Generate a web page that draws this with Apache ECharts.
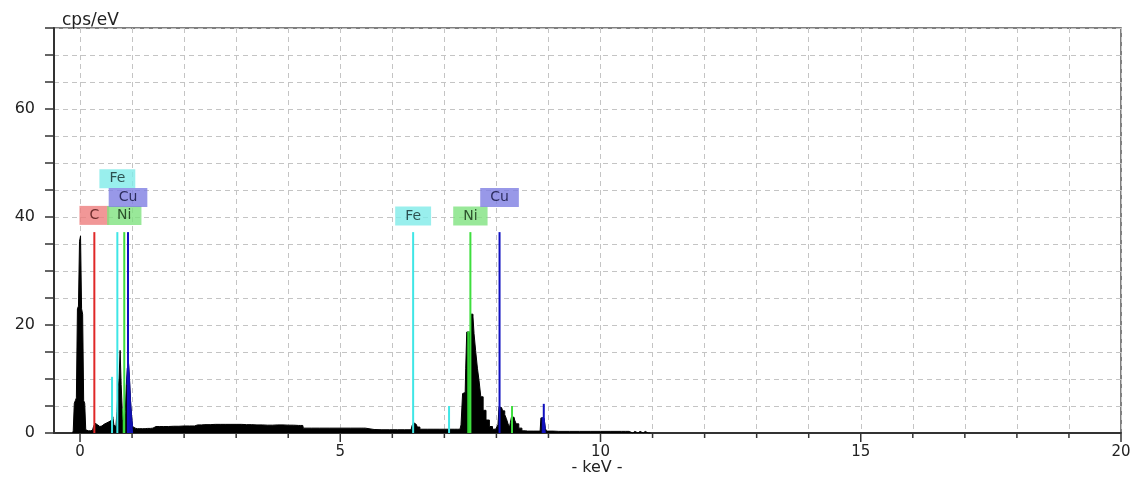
<!DOCTYPE html>
<html><head><meta charset="utf-8">
<script src="https://cdn.jsdelivr.net/npm/echarts@6/dist/echarts.min.js"></script>
<style>html,body{margin:0;padding:0;background:#fff}#c{width:1138px;height:482px}</style>
</head><body><div id="c"></div>
<script>
// ---- data ----
const energy = [-0.14,-0.12,-0.10,-0.08,-0.06,-0.04,-0.02,0.00,0.02,0.04,0.06,0.08,0.10,0.12,0.16,0.20,0.24,0.28,0.30,0.34,0.38,0.42,0.46,0.50,0.54,0.58,0.62,0.64,0.66,0.68,0.70,0.72,0.74,0.76,0.78,0.80,0.82,0.84,0.86,0.88,0.90,0.92,0.94,0.96,0.98,1.00,1.02,1.06,1.10,1.20,1.30,1.40,1.46,1.60,1.80,2.00,2.20,2.26,2.40,2.60,2.80,3.00,3.20,3.40,3.60,3.80,4.00,4.20,4.28,4.30,4.60,5.00,5.40,5.48,5.50,5.80,6.10,6.36,6.40,6.42,6.46,6.50,6.56,6.80,7.00,7.20,7.30,7.34,7.36,7.40,7.42,7.44,7.46,7.48,7.50,7.52,7.54,7.56,7.58,7.62,7.65,7.68,7.72,7.77,7.83,7.90,7.95,8.02,8.04,8.06,8.10,8.14,8.18,8.20,8.24,8.26,8.28,8.30,8.34,8.36,8.40,8.46,8.52,8.60,8.84,8.87,8.89,8.91,8.93,8.95,8.98,9.20,9.60,10.00,10.40,10.55,10.58,10.66,10.68,10.76,10.78,10.86,10.88,10.95,10.97];
const counts = [0,0.5,5.5,6,6.5,23,23.5,35.5,36.5,23,22,6,5.5,0.6,0.4,0.4,0.5,1.2,1.8,1.5,1.2,1.3,1.6,1.8,2.0,2.2,2.5,3.0,1.5,1.2,1.5,4,8,10,15.3,9,4.5,2.5,2,4,9,12,13.2,10,6,3,1.2,0.9,0.8,0.8,0.85,0.9,1.2,1.2,1.25,1.3,1.3,1.5,1.55,1.6,1.6,1.6,1.55,1.5,1.45,1.5,1.45,1.4,1.4,0.9,0.9,0.9,0.9,0.9,0.65,0.6,0.6,0.6,1.4,1.9,1.6,1.1,0.7,0.7,0.7,0.7,0.7,1.5,7.3,7.5,12,18.7,18.7,18.7,18.7,22,22,21.5,18.4,15.3,12,9.8,6.7,4.2,2.4,1.2,0.7,0.7,1.5,4.85,4.7,4.1,3.4,2.7,1.8,1.0,2.0,3.0,2.9,2.4,1.7,0.9,0.4,0.35,0.35,2.8,2.8,2.8,2.4,0.8,0.35,0.3,0.3,0.3,0.3,0.3,0,0.3,0,0.3,0,0.3,0,0.3,0];

const markerEl = ['C','Fe','Ni','Cu','Fe','Ni','Cu'];
const markerKeV = [0.275,0.717,0.85,0.922,6.40,7.50,8.06];
const markerHeight = [37.2,37.2,37.2,37.2,37.2,37.2,37.2];
const labelRow = [40.3,47.1,40.3,43.6,40.2,40.2,43.6];

const minorEl = ['Fe','Fe','Ni','Cu'];
const minorKeV = [0.615,7.09,8.30,8.91];
const minorHeight = [10.4,5.0,5.0,5.4];

const bandEl = ['Ni','Cu','Ni','Cu'];
const bandLo = [0.81,0.90,7.43,8.86];
const bandHi = [0.86,1.02,7.50,8.95];

const xTickMajor = [0,5,10,15,20];
const xTickMinor = [1,2,3,4,6,7,8,9,11,12,13,14,16,17,18,19];
const yLabelValues = [0,20,40,60];

// ---- styles ----
const elStyle = {
  C:  {line:'#e02828', box:'#ee7d7d', text:'#4a1010', fill:'#e02828'},
  Fe: {line:'#3fe6e6', box:'#80ebe8', text:'#102828', fill:'#3fd8d8'},
  Ni: {line:'#3ede3e', box:'#80e280', text:'#102a10', fill:'#30d030'},
  Cu: {line:'#1010c0', box:'#7e7ee2', text:'#10103a', fill:'#1010b0'}
};
const FONT = 'DejaVu Sans';

const spectrum = energy.map((e,i)=>[e,counts[i]]);

const bandSeries = bandEl.map((el,k)=>({
  type:'line', step:'middle', symbol:'none', silent:true, z:3,
  data: spectrum.filter(p=>p[0]>=bandLo[k] && p[0]<=bandHi[k]),
  lineStyle:{color:elStyle[el].fill,width:1},
  areaStyle:{color:elStyle[el].fill,opacity:1}
}));

const lineData = [];
markerEl.forEach((el,i)=>lineData.push([markerKeV[i],markerHeight[i],el]));
minorEl.forEach((el,i)=>lineData.push([minorKeV[i],minorHeight[i],el]));

const option = {
  animation:false,
  backgroundColor:'#fff',
  title:[{text:'cps/eV', left:57, top:7, textStyle:{fontSize:17,fontWeight:'normal',color:'#222',fontFamily:FONT}}],
  graphic:[{type:'text', x:597, y:460, style:{text:'- keV -', fill:'#222', font:'16px '+FONT, textAlign:'center'}}],
  grid:{left:54,right:17,top:28,bottom:49,show:true,borderColor:'#555',borderWidth:1.5,backgroundColor:'#fff'},
  xAxis:{
    type:'value', min:-0.5, max:20, interval:0.5,
    axisLine:{onZero:false,lineStyle:{color:'#333',width:2}},
    axisTick:{show:false},
    axisLabel:{color:'#222',fontSize:15,fontFamily:FONT,margin:12,
      formatter:v=>xTickMajor.indexOf(v)>=0?String(v):''},
    splitLine:{show:true,showMinLine:true,showMaxLine:true,lineStyle:{color:['rgba(0,0,0,0)','#c4c4c4'],type:[5,4],width:1}}
  },
  yAxis:{
    type:'value', min:0, max:75, interval:5,
    axisLine:{show:true,onZero:false,lineStyle:{color:'#333',width:2}},
    axisTick:{show:true,length:9,lineStyle:{color:'#333',width:1.5}},
    axisLabel:{color:'#222',fontSize:16,fontFamily:FONT,margin:19,
      formatter:v=>yLabelValues.indexOf(v)>=0?String(v):''},
    splitLine:{show:true,lineStyle:{color:'#c4c4c4',type:[5,4],width:1}}
  },
  series:[
    {type:'line', step:'middle', symbol:'none', silent:true, z:2, data:spectrum,
     lineStyle:{color:'#000',width:1}, areaStyle:{color:'#000',opacity:1}},
    ...bandSeries,
    {type:'custom', z:4, silent:true, data:lineData,
     renderItem:(params,api)=>{
       const d=lineData[params.dataIndex];
       const p0=api.coord([d[0],0]), p1=api.coord([d[0],d[1]]);
       return {type:'line',shape:{x1:p0[0],y1:p0[1],x2:p1[0],y2:p1[1]},style:{stroke:elStyle[d[2]].line,lineWidth:2}};
     }},
    {type:'scatter', z:5, silent:true, symbolSize:1, itemStyle:{color:'rgba(0,0,0,0)'},
     data: markerEl.map((el,i)=>({value:[markerKeV[i],labelRow[i]],name:el,
       label:{show:true,position:'inside',formatter:el,color:elStyle[el].text,backgroundColor:elStyle[el].box,
         padding:[2,10,2,10],fontSize:14,fontFamily:FONT,lineHeight:15}}))},
    {type:'custom', z:6, silent:true, clip:false,
     data: xTickMajor.concat(xTickMinor).map(v=>[v]),
     renderItem:(params,api)=>{
       const v=api.value(0); const p=api.coord([v,0]);
       const len = xTickMajor.indexOf(v)>=0?8:4;
       return {type:'line',shape:{x1:p[0],y1:p[1]+1,x2:p[0],y2:p[1]+1+len},style:{stroke:'#333',lineWidth:1.5}};
     }}
  ]
};
echarts.init(document.getElementById('c'),null,{renderer:'canvas'}).setOption(option);
</script>
</body></html>
